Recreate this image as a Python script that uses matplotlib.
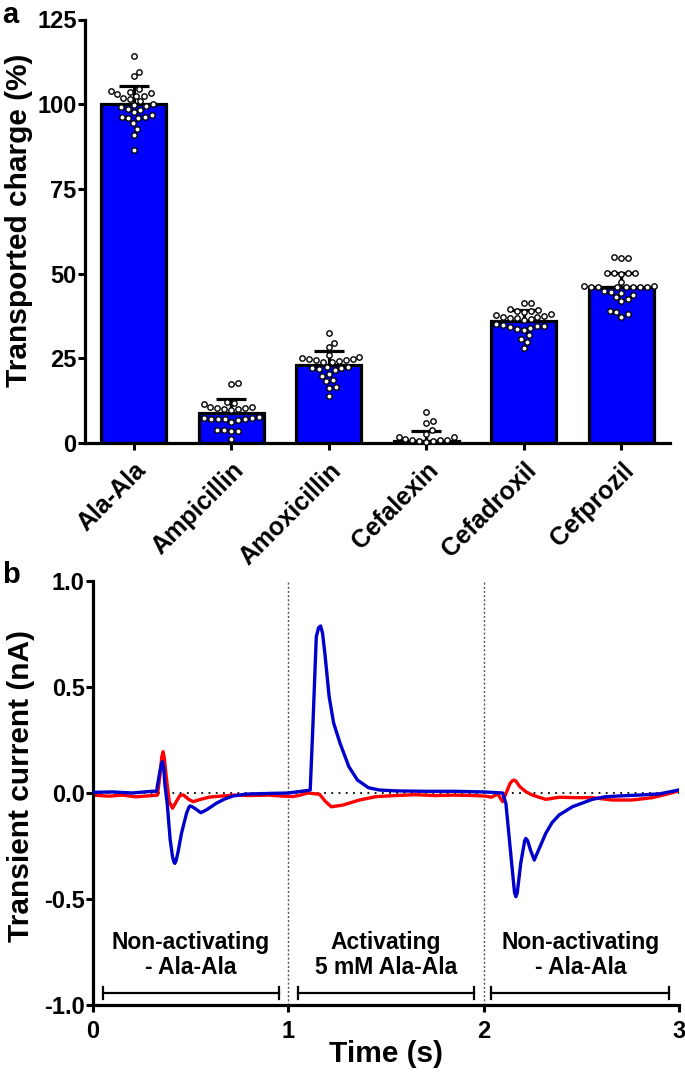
import numpy as np
import matplotlib
matplotlib.use("Agg")
import matplotlib.pyplot as plt

plt.rcParams["font.family"] = ["Liberation Sans", "DejaVu Sans"]
plt.rcParams["font.weight"] = "bold"

# --- panel a data ---
drugs = ["Ala-Ala", "Ampicillin", "Amoxicillin", "Cefalexin", "Cefadroxil", "Cefprozil"]
mean_charge = [100.0, 9.0, 23.0, 0.5, 36.0, 46.0]
sd_charge = [5.5, 4.0, 4.2, 3.0, 3.3, 4.3]

pts_ala = [114.1, 109.6, 108.4, 104.4, 104.0, 103.6, 103.2, 103.0, 102.5, 102.4,
           101.8, 101.5, 100.8, 100.1, 99.8, 99.5, 99.3, 98.7, 98.3, 97.6,
           96.8, 96.3, 96.3, 95.9, 95.9, 94.4, 92.7, 90.9, 86.4]
pts_ampi = [17.6, 17.4, 12.2, 11.7, 11.5, 10.6, 10.2, 10.0, 9.8, 9.9, 10.4, 10.5,
            7.6, 7.0, 7.1, 7.0, 6.3, 6.9, 7.1, 7.4, 7.3, 3.8, 3.6, 3.5, 3.9, 1.1]
pts_amox = [32.6, 29.6, 28.4, 26.0, 25.3, 25.0, 24.8, 24.5, 24.6, 24.3, 24.0, 24.7,
            23.8, 22.4, 22.1, 22.0, 21.8, 22.3, 21.5, 20.3, 19.9, 18.5, 18.2,
            16.6, 16.3, 14.0]
pts_cefal = [9.2, 6.6, 5.8, 3.8, 2.7, 1.8, 1.2, 0.8, 0.6, 0.4, 0.6, 0.8, 1.0, 1.8]
pts_cefad = [41.3, 41.2, 39.5, 39.2, 38.9, 38.9, 38.6, 38.2, 37.8, 37.5, 37.3, 37.1,
             37.0, 36.8, 36.6, 36.3, 35.0, 34.8, 34.6, 34.5, 34.2, 34.0, 33.6,
             33.4, 31.9, 30.7, 29.9, 28.1]
pts_cefpr = [54.8, 54.5, 54.7, 50.3, 50.2, 50.0, 50.1, 50.2, 47.6, 46.2, 46.1, 46.1,
             46.1, 46.0, 46.1, 46.0, 46.2, 46.1, 44.4, 43.8, 44.7, 44.9, 43.2,
             42.5, 42.0, 39.1, 38.8, 38.1, 37.3]
all_pts = [pts_ala, pts_ampi, pts_amox, pts_cefal, pts_cefad, pts_cefpr]

# --- panel b data ---
t_blue = [0.00, 0.10, 0.20, 0.30, 0.325, 0.342, 0.351, 0.356, 0.362, 0.368, 0.38, 0.395,
          0.407, 0.414, 0.419, 0.425, 0.435, 0.453, 0.479, 0.492, 0.499, 0.51, 0.525,
          0.552, 0.58, 0.60, 0.632, 0.67, 0.717, 0.785, 0.90, 1.00, 1.10, 1.112, 1.125,
          1.143, 1.155, 1.165, 1.175, 1.187, 1.209, 1.232, 1.265, 1.31, 1.354, 1.41,
          1.467, 1.55, 1.70, 1.85, 2.00, 2.097, 2.114, 2.14, 2.158, 2.165, 2.172, 2.19,
          2.21, 2.216, 2.225, 2.24, 2.259, 2.29, 2.318, 2.35, 2.386, 2.454, 2.556,
          2.62, 2.693, 2.812, 2.90, 2.983, 3.0]
i_blue = [0.003, 0.005, 0.0, 0.008, 0.008, 0.10, 0.14, 0.148, 0.12, 0.04, -0.05, -0.22,
          -0.30, -0.325, -0.332, -0.32, -0.28, -0.19, -0.095, -0.065, -0.061, -0.066, -0.075,
          -0.093, -0.08, -0.068, -0.048, -0.03, -0.014, -0.005, -0.002, 0.0, 0.012, 0.014, 0.30,
          0.737, 0.78, 0.788, 0.755, 0.659, 0.454, 0.33, 0.234, 0.124, 0.061, 0.025,
          0.014, 0.01, 0.008, 0.008, 0.005, 0.0, -0.05, -0.30, -0.47, -0.489, -0.47, -0.33,
          -0.225, -0.214, -0.225, -0.27, -0.316, -0.25, -0.19, -0.14, -0.104, -0.065, -0.03,
          -0.018, -0.014, -0.009, -0.004, 0.011, 0.015]

t_red = [0.00, 0.08, 0.15, 0.22, 0.30, 0.33, 0.345, 0.352, 0.359, 0.366, 0.372, 0.39,
         0.407, 0.43, 0.445, 0.462, 0.49, 0.513, 0.55, 0.598, 0.717, 0.80, 0.90, 0.96,
         1.024, 1.06, 1.10, 1.14, 1.16, 1.19, 1.22, 1.279, 1.364, 1.45, 1.55, 1.65,
         1.75, 1.85, 1.95, 2.012, 2.04, 2.072, 2.097, 2.115, 2.135, 2.147, 2.156, 2.165,
         2.185, 2.216, 2.25, 2.318, 2.386, 2.471, 2.557, 2.659, 2.761, 2.863, 2.94,
         2.983, 3.0]
i_red = [-0.01, -0.015, -0.01, -0.018, -0.012, -0.01, 0.10, 0.17, 0.195, 0.16, 0.10, -0.04,
         -0.072, -0.035, -0.012, -0.009, -0.03, -0.041, -0.03, -0.019, -0.01, -0.012, -0.01, -0.014,
         -0.017, -0.01, 0.0, -0.004, -0.006, -0.04, -0.065, -0.057, -0.033, -0.017, -0.012, -0.008,
         -0.012, -0.01, -0.012, -0.015, -0.02, -0.005, -0.041, 0.0, 0.045, 0.058, 0.061, 0.056,
         0.03, 0.006, -0.01, -0.03, -0.02, -0.022, -0.022, -0.033, -0.033, -0.022, -0.005,
         0.006, 0.01]

phase_names = ["Non-activating\n- Ala-Ala", "Activating\n5 mM Ala-Ala", "Non-activating\n- Ala-Ala"]
phase_start = [0.05, 1.05, 2.04]
phase_end = [0.95, 1.95, 2.95]

W, H = 685, 1073


def box(l, t, r, b):
    return [l / W, 1 - b / H, (r - l) / W, (b - t) / H]


def swarm(ypx, d):
    # simple beeswarm in pixel space
    xs = np.zeros(len(ypx))
    placed = []
    for k in np.argsort(ypx):
        y = ypx[k]
        cands = [0.0]
        for px, py in placed:
            dy = y - py
            if abs(dy) < d:
                dx = np.sqrt(d * d - dy * dy)
                cands += [px + dx, px - dx]
        cands.sort(key=abs)
        for c in cands:
            if all((c - px) ** 2 + (y - py) ** 2 >= d * d - 1e-6 for px, py in placed):
                xs[k] = c
                break
        placed.append((xs[k], y))
    return xs


fig = plt.figure(figsize=(6.85, 10.73), dpi=100)

# ---------- panel a ----------
ax1 = fig.add_axes(box(85, 19.5, 670, 443))
x = np.arange(len(drugs))
ax1.bar(x, mean_charge, width=0.67, color="#0000FF", edgecolor="black", linewidth=2.3, zorder=1)
ax1.errorbar(x, mean_charge, yerr=[np.zeros(len(x)), sd_charge], fmt="none", ecolor="black",
             elinewidth=2.3, capsize=11, capthick=2.3, zorder=2)
ax1.set_xlim(-0.5, 5.5)
ax1.set_ylim(0, 125)

fig.canvas.draw()
x_px = ax1.transData.transform((1, 0))[0] - ax1.transData.transform((0, 0))[0]
for i, vals in enumerate(all_pts):
    ypx = np.array([ax1.transData.transform((0, v))[1] for v in vals])
    offs = swarm(ypx, 7.0) / x_px
    ax1.scatter(i + offs, vals, s=15, facecolor="white", edgecolor="black",
                linewidths=1.0, zorder=3, clip_on=False)

ax1.set_yticks([0, 25, 50, 75, 100, 125])
ax1.set_xticks(x)
ax1.set_xticklabels(drugs, rotation=45, ha="right", va="top", rotation_mode="anchor",
                    fontsize=18, fontweight="bold")
ax1.tick_params(axis="y", labelsize=17, width=2.2, length=5, pad=1)
ax1.tick_params(axis="x", width=2.2, length=5, pad=6)
for s in ["top", "right"]:
    ax1.spines[s].set_visible(False)
for s in ["left", "bottom"]:
    ax1.spines[s].set_linewidth(2.3)
fig.text(19 / W, 1 - 220 / H, "Transported charge (%)", rotation=90, ha="center",
         va="center", fontsize=21.5, fontweight="bold")
fig.text(2 / W, 1 - 1 / H, "a", fontsize=21, fontweight="bold", va="top")

# ---------- panel b ----------
ax2 = fig.add_axes(box(93, 581, 679, 1005))
ax2.axvline(1, color="#555555", lw=1.0, ls=(0, (1.5, 1.5)), zorder=1)
ax2.axvline(2, color="#555555", lw=1.0, ls=(0, (1.5, 1.5)), zorder=1)
ax2.axhline(0, color="black", lw=1.3, ls=(0, (1, 3)), zorder=1)
ax2.plot(t_red, i_red, color="#FF0000", lw=2.4, zorder=2, solid_joinstyle="round")
ax2.plot(t_blue, i_blue, color="#0000CC", lw=2.4, zorder=3, solid_joinstyle="round")

for name, a, b in zip(phase_names, phase_start, phase_end):
    ax2.text((a + b) / 2, -0.764, name, ha="center", va="center", fontsize=16.5,
             fontweight="bold", linespacing=1.13)
    ax2.plot([a, b], [-0.943, -0.943], color="black", lw=1.6)
    ax2.plot([a, a], [-0.973, -0.913], color="black", lw=1.6)
    ax2.plot([b, b], [-0.973, -0.913], color="black", lw=1.6)

ax2.set_xlim(0, 3)
ax2.set_ylim(-1, 1)
ax2.set_xticks([0, 1, 2, 3])
ax2.set_yticks([-1.0, -0.5, 0.0, 0.5, 1.0])
ax2.set_yticklabels(["-1.0", "-0.5", "0.0", "0.5", "1.0"])
ax2.tick_params(labelsize=17, width=2.2, length=5)
ax2.tick_params(axis="y", pad=1)
ax2.tick_params(axis="x", pad=6)
for s in ["top", "right"]:
    ax2.spines[s].set_visible(False)
for s in ["left", "bottom"]:
    ax2.spines[s].set_linewidth(2.3)
fig.text(21 / W, 1 - 786 / H, "Transient current (nA)", rotation=90, ha="center",
         va="center", fontsize=21.5, fontweight="bold")
fig.text(386 / W, 1 - 1054 / H, "Time (s)", ha="center", va="center", fontsize=21.5,
         fontweight="bold")
fig.text(2 / W, 1 - 583 / H, "b", fontsize=21, fontweight="bold", va="baseline")

fig.savefig("out.png", dpi=100)
